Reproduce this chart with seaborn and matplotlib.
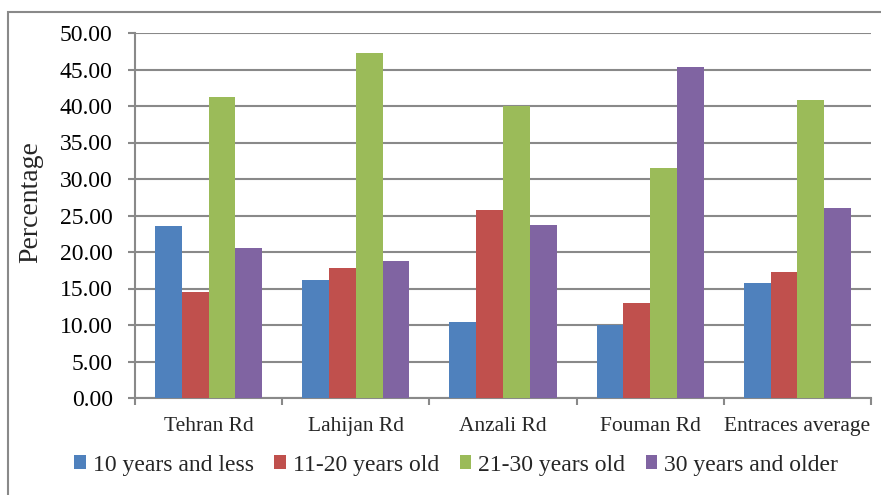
import numpy as np
import pandas as pd
import matplotlib
matplotlib.use("Agg")
import matplotlib.pyplot as plt
from matplotlib.patches import Rectangle, Patch
from matplotlib.ticker import FormatStrFormatter, FixedLocator
import seaborn as sns

# Data: share of vehicles by age group at each city entrance (%)
entrances = ["Tehran Rd", "Lahijan Rd", "Anzali Rd", "Fouman Rd", "Entraces average"]
age_groups = ["10 years and less", "11-20 years old", "21-30 years old", "30 years and older"]
age_10_less = [23.6, 16.2, 10.4, 10.0, 15.8]
age_11_20 = [14.5, 17.8, 25.7, 13.0, 17.2]
age_21_30 = [41.2, 47.2, 40.0, 31.5, 40.8]
age_30_more = [20.6, 18.8, 23.7, 45.3, 26.0]
colors = ["#4F81BD", "#C0504D", "#9BBB59", "#8064A2"]

series = [age_10_less, age_11_20, age_21_30, age_30_more]
df = pd.DataFrame({
    "Entrance": np.repeat([entrances], len(age_groups), axis=0).ravel(),
    "Age": np.repeat(age_groups, len(entrances)),
    "Percentage": np.concatenate(series),
})

sns.set_theme(style="white")
plt.rcParams["font.family"] = ["Liberation Serif", "DejaVu Serif"]

fig = plt.figure(figsize=(8.81, 4.95), dpi=100)
ax = fig.add_axes([135 / 881, 97 / 495, 736 / 881, 365 / 495])

sns.barplot(data=df, x="Entrance", y="Percentage", hue="Age",
            order=entrances, hue_order=age_groups, palette=colors,
            width=4 / 5.5, gap=0, saturation=1, errorbar=None,
            linewidth=0, ax=ax, legend=False, zorder=3)

grid_c = "#898989"
ax.set_ylim(0, 50)
ax.set_xlim(-0.5, len(entrances) - 0.5)
ax.yaxis.set_major_locator(FixedLocator(np.arange(0, 50.1, 5)))
ax.yaxis.set_major_formatter(FormatStrFormatter("%.2f"))
ax.yaxis.grid(True, color=grid_c, linewidth=1.5, zorder=0)
ax.set_axisbelow(True)

# category ticks sit on the group boundaries, labels at the group centres
ax.set_xticks(np.arange(-0.5, len(entrances), 1.0))
ax.set_xticklabels([])
ax.set_xticks(np.arange(len(entrances)), minor=True)
ax.set_xticklabels(entrances, minor=True, fontsize=15.5)
ax.tick_params(axis="x", which="major", direction="out", length=5,
               width=1.5, color=grid_c, bottom=True)
ax.tick_params(axis="x", which="minor", length=0, pad=14)
ax.tick_params(axis="y", direction="out", length=5, width=1.5,
               color=grid_c, left=True, labelsize=17, pad=11)
for lab in ax.get_yticklabels():
    lab.set_color("black")

for side in ["top", "right"]:
    ax.spines[side].set_visible(False)
for side in ["left", "bottom"]:
    ax.spines[side].set_color(grid_c)
    ax.spines[side].set_linewidth(1.5)

ax.set_xlabel("")
ax.set_ylabel("Percentage", fontsize=20)
ax.yaxis.set_label_coords(-0.125, 0.537)

handles = [Patch(facecolor=c, edgecolor="none") for c in colors]
fig.legend(handles, age_groups, loc="center", bbox_to_anchor=(0.518, 1 - 465 / 495),
           ncol=4, frameon=False, fontsize=17, handlelength=0.5,
           handleheight=0.5, handletextpad=0.3, columnspacing=0.85)

# outer chart frame
fig.add_artist(Rectangle((8 / 881, -0.05), 1.2, 1 - 12 / 495 + 0.05,
                         transform=fig.transFigure, fill=False,
                         edgecolor=grid_c, linewidth=1.5))

fig.savefig("out.png", dpi=100)
